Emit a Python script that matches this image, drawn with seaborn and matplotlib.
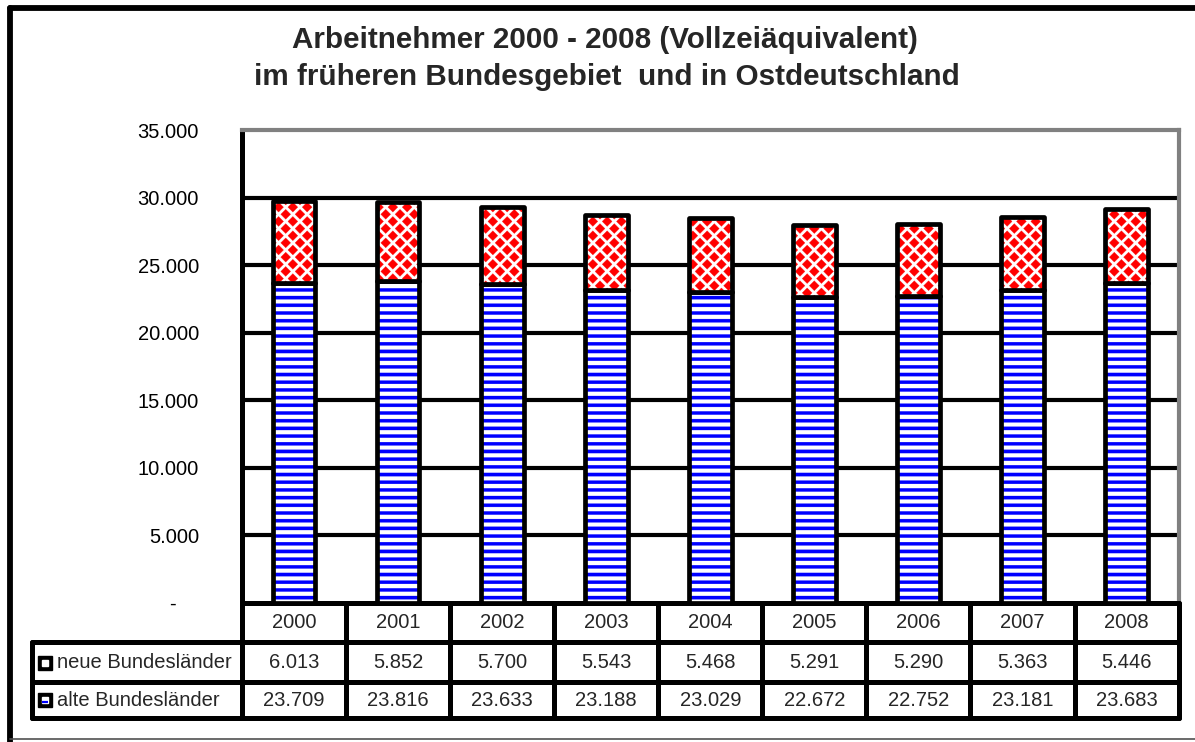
import numpy as np
import pandas as pd
import matplotlib
matplotlib.use("Agg")
import matplotlib.pyplot as plt
import seaborn as sns
import matplotlib.colors as mcolors
from matplotlib import hatch as mhatch
from matplotlib.path import Path
from matplotlib.lines import Line2D

# ---------------- data ----------------
years = ["2000", "2001", "2002", "2003", "2004", "2005", "2006", "2007", "2008"]
neue = [6013, 5852, 5700, 5543, 5468, 5291, 5290, 5363, 5446]
alte = [23709, 23816, 23633, 23188, 23029, 22672, 22752, 23181, 23683]
row_labels = ["neue Bundesländer", "alte Bundesländer"]
title_1 = "Arbeitnehmer 2000 - 2008 (Vollzeiäquivalent)"
title_2 = "im früheren Bundesgebiet  und in Ostdeutschland"
yticks = [0, 5000, 10000, 15000, 20000, 25000, 30000, 35000]

df = pd.DataFrame({"Jahr": years, "neue": neue, "alte": alte})


def fmt(v):
    return f"{v:,}".replace(",", ".")


# ---------------- custom hatch patterns ----------------
class StripeHatch(mhatch.HatchPatternBase):
    def __init__(self, hatch, density):
        self.num_lines = hatch.count("-") * 13
        self.num_vertices = self.num_lines * 5

    def set_vertices_and_codes(self, vertices, codes):
        n = self.num_lines
        step = 1.0 / n
        h = 0.42 * step
        verts = []
        for i in range(n):
            y0 = i * step + 0.1 * step
            verts += [[-0.02, y0], [1.02, y0], [1.02, y0 + h], [-0.02, y0 + h], [-0.02, y0]]
        vertices[:] = np.array(verts)
        codes[:] = [Path.MOVETO, Path.LINETO, Path.LINETO, Path.LINETO, Path.CLOSEPOLY] * n


class DiamondHatch(mhatch.HatchPatternBase):
    def __init__(self, hatch, density):
        n = hatch.count("*") * 7
        self.n = n
        self.centers = []
        if n:
            D = 1.0 / n
            for j in range(2 * n + 1):
                y = j * D / 2
                if j % 2 == 0:
                    xs = [i * D for i in range(n + 1)]
                else:
                    xs = [D / 2 + i * D for i in range(n)]
                for x in xs:
                    self.centers.append((x, y))
        self.num_vertices = len(self.centers) * 5

    def set_vertices_and_codes(self, vertices, codes):
        D = 1.0 / self.n
        h = 0.345 * D
        verts = []
        for (x, y) in self.centers:
            verts += [[x, y - h], [x + h, y], [x, y + h], [x - h, y], [x, y - h]]
        vertices[:] = np.array(verts)
        codes[:] = [Path.MOVETO, Path.LINETO, Path.LINETO, Path.LINETO, Path.CLOSEPOLY] * len(self.centers)


mhatch._hatch_types = [StripeHatch, DiamondHatch]

# ---------------- style ----------------
sns.set_style("white")
plt.rcParams["font.family"] = ["Liberation Sans", "DejaVu Sans"]
plt.rcParams["hatch.linewidth"] = 0.2

W, H = 1195, 742
fig = plt.figure(figsize=(W / 100, H / 100), dpi=100)
fig.patch.set_facecolor("white")


def fx(px):
    return px / W


def fy(py):
    return 1 - py / H


# plot area in pixels
L, R, T, B = 242, 1178.6, 130, 603
ax = fig.add_axes([fx(L), fy(B), fx(R - L), (B - T) / H])

bar_w = 0.41
lw_bar = 3.4
sns.barplot(data=df, x="Jahr", y="alte", color="white", saturation=1, width=bar_w,
            edgecolor="black", linewidth=lw_bar, hatch="-", ax=ax, zorder=3)
sns.barplot(data=df, x="Jahr", y="neue", bottom=df["alte"].to_numpy(), color="white",
            saturation=1, width=bar_w, edgecolor="black", linewidth=lw_bar, hatch="*",
            ax=ax, zorder=3)


def set_hatch_color(bars, color):
    for p in bars:
        if hasattr(p, "set_hatchcolor"):
            p.set_hatchcolor(color)
        else:
            p._hatch_color = mcolors.to_rgba(color)
        p.set_joinstyle("round")


set_hatch_color(ax.containers[0], "#0000ff")
set_hatch_color(ax.containers[1], "#ff0000")

ax.set_xlim(-0.5, 8.5)
ax.set_ylim(0, 35000)
ax.set_yticks(yticks)
ax.set_yticklabels(["-    " if v == 0 else fmt(v) for v in yticks])
ax.tick_params(axis="y", length=5, width=3.5, pad=26, labelsize=14.5, direction="out",
               color="black", labelcolor="black")
ax.tick_params(axis="x", length=0, labelbottom=False)
ax.set_xlabel("")
ax.set_ylabel("")
ax.set_axisbelow(True)
for v in yticks[1:-1]:
    ax.axhline(v, color="black", lw=3.0, zorder=1)
for side in ["left", "bottom"]:
    ax.spines[side].set_color("black")
    ax.spines[side].set_linewidth(3.6)
    ax.spines[side].set_capstyle("round")
for side in ["top", "right"]:
    ax.spines[side].set_color("#808080")
    ax.spines[side].set_linewidth(3.0)

# ---------------- data table ----------------
TB = 720
tax = fig.add_axes([fx(32), fy(TB), fx(R - 32), (TB - B) / H])
x_left = -0.5 - (L - 32) / ((R - L) / 9)
tax.set_xlim(x_left, 8.5)
tax.set_ylim(TB, B)
tax.axis("off")


def px2x(px):
    return -0.5 + (px - L) / ((R - L) / 9)


lw_t = 3.6
kw = dict(color="black", lw=lw_t, solid_capstyle="round", clip_on=False)
# vertical lines
for k in range(len(years) + 1):
    tax.plot([-0.5 + k, -0.5 + k], [B, 718], **kw)
tax.plot([x_left, x_left], [642, 718], **kw)
# horizontal lines
for yy in [642, 682, 718]:
    tax.plot([x_left, 8.5], [yy, yy], **kw)

row_y = {"head": 622, "neue": 663, "alte": 700}
for i, yr in enumerate(years):
    tax.text(i, row_y["head"], yr, ha="center", va="center", fontsize=14.5)
    tax.text(i, row_y["neue"], fmt(neue[i]), ha="center", va="center", fontsize=14.5)
    tax.text(i, row_y["alte"], fmt(alte[i]), ha="center", va="center", fontsize=14.5)

for key, label in zip(["neue", "alte"], row_labels):
    yy = row_y[key]
    tax.plot([px2x(45)], [yy], marker="s", ms=10.5, mfc="black", mec="black", clip_on=False)
    tax.plot([px2x(45)], [yy], marker="s", ms=4.2, mfc="white", mec="white", clip_on=False)
    if key == "alte":
        tax.plot([px2x(45)], [yy + 1.5], marker="_", ms=4.2, mew=1.6, color="#0000ff", clip_on=False)
    tax.text(px2x(57), yy, label, ha="left", va="center", fontsize=14.5)

# ---------------- title ----------------
fig.text(fx(605), fy(40), title_1, ha="center", va="center", fontsize=21.3, fontweight="bold")
fig.text(fx(607), fy(77), title_2, ha="center", va="center", fontsize=21.3, fontweight="bold")

# ---------------- outer frame ----------------
fig.add_artist(Line2D([fx(10), fx(10)], [fy(8), fy(742)], transform=fig.transFigure,
                      color="black", lw=4.2, solid_capstyle="round"))
fig.add_artist(Line2D([fx(10), fx(1200)], [fy(8), fy(8)], transform=fig.transFigure,
                      color="black", lw=4.2, solid_capstyle="round"))
fig.add_artist(Line2D([fx(10), fx(1195)], [fy(739), fy(739)], transform=fig.transFigure,
                      color="#505050", lw=1.2))

fig.savefig("out.png", dpi=100, facecolor="white")
